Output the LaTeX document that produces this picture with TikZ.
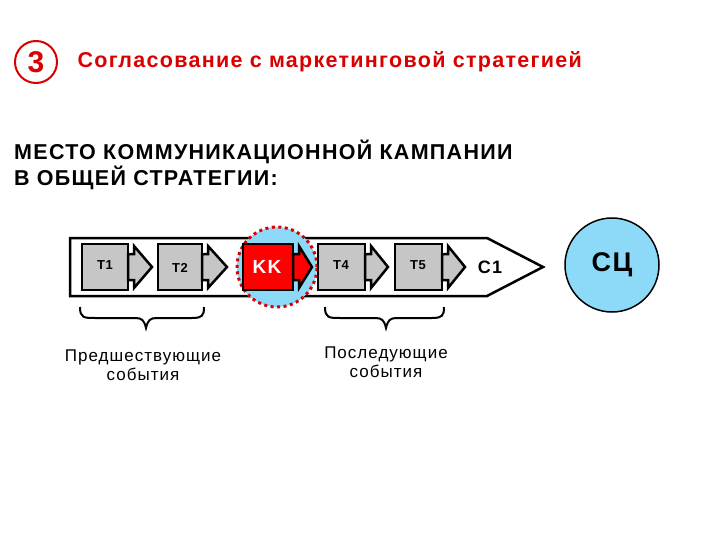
\documentclass[tikz,border=0pt]{standalone}
\usepackage{fontspec}
\setmainfont{Liberation Sans}[LetterSpace=6]
\begin{document}
\begin{tikzpicture}[x=1pt,y=-1pt,
  box/.style={draw=black,line width=2.5pt,fill=gray!45},
  lbl/.style={font=\bfseries\fontsize{13}{13}\selectfont},
  captxt/.style={font=\fontsize{17}{19}\selectfont,align=center}]
\useasboundingbox (0,0) rectangle (720,540);
% header
\node[circle,draw=red!85!black,line width=2pt,fill=white,minimum size=42pt,inner sep=0] (num) at (36,62) {\bfseries\fontsize{30}{30}\selectfont\textcolor{red!85!black}{3}};
\node[anchor=west,text=red!85!black,font=\bfseries\fontsize{21.5}{21.5}\selectfont] (title) at (74,62) {Согласование с маркетинговой стратегией};
\node[anchor=north west,align=left,font=\bfseries\fontsize{21.5}{26}\selectfont,inner sep=0] (head) at (14,140) {МЕСТО КОММУНИКАЦИОННОЙ КАМПАНИИ\\В ОБЩЕЙ СТРАТЕГИИ:};
% big arrow
\draw[line width=2.5pt,fill=white] (70,238) -- (487,238) -- (543,267) -- (487,296) -- (70,296) -- cycle;
% KK highlight
\node[circle,fill=cyan!45,draw=red!85!black,line width=3pt,dash pattern=on 3pt off 3.5pt,minimum size=80pt] (hl) at (277,267) {};
% small arrows
\foreach \n/\l/\r/\t/\c in {t1/82/128/152/gray!45,t2/158/202/227/gray!45,kk/243/293/312/red,t4/318/365/388/gray!45,t5/395/442/465/gray!45}{
  \draw[box,fill=\c] (\l,244) rectangle (\r,290);
  \draw[box,fill=\c] (\r,254) -- (\r+6,254) -- (\r+6,246) -- (\t,267) -- (\r+6,288) -- (\r+6,280) -- (\r,280) -- cycle;
  \coordinate (\n) at ({(\l+\r)/2},267);
}
\node[lbl] (l1) at (105,265) {T1};
\node[lbl] (l2) at (180,268) {T2};
\node[font=\bfseries\fontsize{19}{19}\selectfont,text=white] (l3) at (267,267) {KK};
\node[lbl] (l4) at (341,265) {T4};
\node[lbl] (l5) at (418,265) {T5};
\node[font=\bfseries\fontsize{18}{18}\selectfont] (c1) at (490,267) {C1};
% SC
\node[circle,fill=cyan!45,draw=black,line width=1.5pt,minimum size=94pt] (sc) at (612,265) {\bfseries\fontsize{27}{27}\selectfont СЦ};
% braces
\draw[line width=2pt] (80,307) .. controls (80,318) and (84,318) .. (95,318) -- (135,318) .. controls (142,318) and (144,320) .. (146,328) .. controls (148,320) and (150,318) .. (157,318) -- (192,318) .. controls (202,318) and (204,316) .. (204,307);
\draw[line width=2pt] (325,307) .. controls (325,318) and (329,318) .. (340,318) -- (375,318) .. controls (382,318) and (384,320) .. (386,328) .. controls (388,320) and (390,318) .. (397,318) -- (432,318) .. controls (442,318) and (444,316) .. (444,307);
\node[captxt] (pre) at (143,365) {Предшествующие\\события};
\node[captxt] (post) at (386,362) {Последующие\\события};
\end{tikzpicture}
\end{document}
